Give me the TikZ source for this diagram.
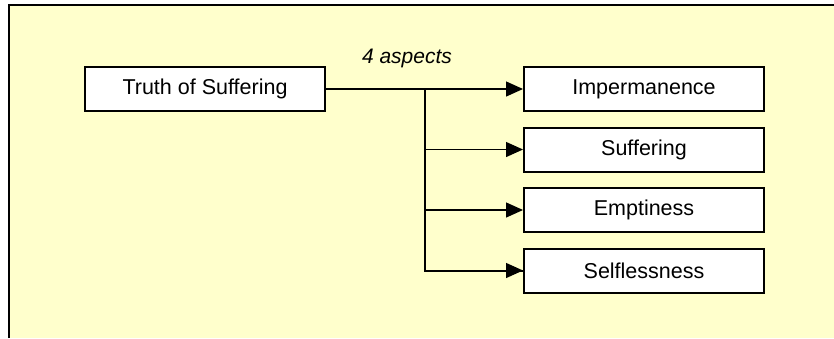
\documentclass[tikz,border=0pt]{standalone}
\usepackage{fontspec}
\setmainfont{Liberation Sans}
\usetikzlibrary{positioning,arrows.meta}

\definecolor{paleyellow}{HTML}{FFFFCC}

\tikzset{
  aspectbox/.style={draw, line width=2pt, fill=white, minimum width=240pt,
    minimum height=44pt, font=\fontsize{21.5}{25}\selectfont},
  branch/.style={line width=1.3pt, -{Triangle[length=17pt,width=15pt]}}
}

\begin{document}
\begin{tikzpicture}[x=1pt, y=1pt, node distance=14.5pt]
  \useasboundingbox (0,0) rectangle (834,-338);
  \fill[paleyellow] (9,-5) rectangle (834,-338);
  \draw[line width=2pt] (9,-338) -- (9,-5) -- (834,-5);

  \node (truth) [aspectbox] at (205,-89) {Truth of Suffering};
  \node (imp) [aspectbox, right=197pt of truth] {Impermanence};
  \node (suff) [aspectbox, below=of imp] {Suffering};
  \node (empty) [aspectbox, below=of suff] {Emptiness};
  \node (self) [aspectbox, below=of empty] {Selflessness};

  \coordinate (split) at ([xshift=99pt]truth.east);
  \node (aspects) [anchor=base, font=\fontsize{21}{25}\selectfont\itshape]
    at ([xshift=-18pt, yshift=26pt]split) {4 aspects};

  \draw[line width=2pt] (truth) -- (split) |- (self);
  \path[branch]
    (split) edge (imp)
    (split |- suff) edge (suff)
    (split |- empty) edge (empty)
    (split |- self) edge (self);
\end{tikzpicture}
\end{document}
